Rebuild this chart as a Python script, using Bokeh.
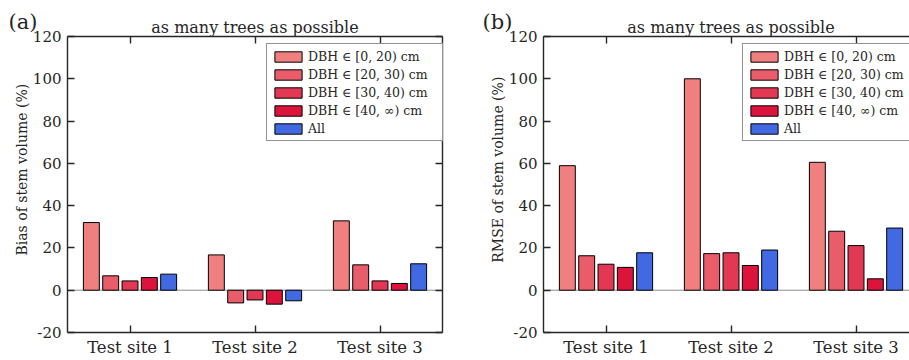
import numpy as np
from bokeh.plotting import figure
from bokeh.models import Range1d, FixedTicker, LinearAxis, Label, Legend, LegendItem
from bokeh.layouts import row
from bokeh.embed import file_html
from bokeh.resources import INLINE

# ---------------- data ----------------
sites = ["Test site 1", "Test site 2", "Test site 3"]
series_labels = ["DBH \u2208 [0, 20) cm", "DBH \u2208 [20, 30) cm",
                 "DBH \u2208 [30, 40) cm", "DBH \u2208 [40, \u221e) cm", "All"]
series_colors = ["#F08080", "#E95C69", "#E33853", "#DC143C", "#4169E1"]

# Bias of stem volume (%)
bias_dbh_0_20 = [32.0, 16.7, 32.8]
bias_dbh_20_30 = [6.8, -6.0, 12.0]
bias_dbh_30_40 = [4.4, -4.6, 4.4]
bias_dbh_40_inf = [6.0, -6.6, 3.2]
bias_all = [7.6, -5.0, 12.5]

# RMSE of stem volume (%)
rmse_dbh_0_20 = [58.9, 100.0, 60.5]
rmse_dbh_20_30 = [16.3, 17.3, 27.9]
rmse_dbh_30_40 = [12.3, 17.7, 21.1]
rmse_dbh_40_inf = [10.8, 11.7, 5.4]
rmse_all = [17.7, 19.0, 29.4]

y_min, y_max = -20, 120
y_ticks = [-20, 0, 20, 40, 60, 80, 100, 120]
y_tick_labels = ["-20", "0", "20", "40", "60", "80", "100", "120"]
panel_title = "as many trees as possible"

# ---------------- style / layout ----------------
FONT = "DejaVu Serif"
TXT = "#262626"
FIG_H = 360
BOX_TOP = 36        # px from canvas top to the y=120 line
BOX_BOTTOM = 332    # px from canvas top to the y=-20 line
PX_PER_CAT = 125.0
BAR_W = 0.1275
BAR_STEP = 0.1546


def style_axis(ax, ticks, labels, show_labels=True):
    ax.ticker = FixedTicker(ticks=ticks)
    ax.axis_line_color = TXT
    ax.axis_line_width = 1.4
    ax.major_tick_line_color = TXT
    ax.major_tick_line_width = 1.4
    ax.major_tick_in = 7
    ax.major_tick_out = 0
    ax.minor_tick_line_color = None
    ax.major_label_text_font = FONT
    ax.major_label_text_font_size = "15px"
    ax.major_label_text_color = TXT
    ax.major_label_standoff = 6
    if show_labels:
        ax.major_label_overrides = {t: l for t, l in zip(ticks, labels)}
    else:
        ax.major_label_overrides = {t: "" for t in ticks}


def make_panel(series_values, ylabel, tag, width, box_left, tag_dx, right_axis):
    ncat = len(sites)
    x0 = 0.5 - box_left / PX_PER_CAT
    x1 = x0 + width / PX_PER_CAT
    ppu = (BOX_BOTTOM - BOX_TOP) / (y_max - y_min)
    y1 = y_max + BOX_TOP / ppu
    y0 = y_min - (FIG_H - BOX_BOTTOM) / ppu

    p = figure(width=width, height=FIG_H,
               x_range=Range1d(x0, x1), y_range=Range1d(y0, y1),
               output_backend="svg", toolbar_location=None,
               x_axis_location=None, y_axis_location=None,
               min_border=0)
    p.outline_line_color = None
    p.xgrid.visible = False
    p.ygrid.visible = False
    p.background_fill_color = "white"
    p.border_fill_color = "white"

    cat_pos = [i + 1 for i in range(ncat)]
    xb = (0.5, ncat + 0.5)

    bottom_ax = LinearAxis(fixed_location=y_min, bounds=xb)
    style_axis(bottom_ax, cat_pos, sites)
    bottom_ax.major_label_text_font_size = "16.5px"
    bottom_ax.major_label_standoff = 5
    p.add_layout(bottom_ax, "below")

    top_ax = LinearAxis(fixed_location=y_max, bounds=xb)
    style_axis(top_ax, cat_pos, sites, show_labels=False)
    p.add_layout(top_ax, "above")

    left_ax = LinearAxis(fixed_location=0.5, bounds=(y_min, y_max))
    style_axis(left_ax, y_ticks, y_tick_labels)
    p.add_layout(left_ax, "left")

    if right_axis:
        r_ax = LinearAxis(fixed_location=ncat + 0.5, bounds=(y_min, y_max))
        style_axis(r_ax, y_ticks, y_tick_labels, show_labels=False)
        p.add_layout(r_ax, "right")

    p.segment(x0=[0.5], x1=[ncat + 0.5], y0=[0], y1=[0],
              line_color="#8c8c8c", line_width=1)

    items = []
    n = len(series_values)
    for k, (vals, col, lab) in enumerate(zip(series_values, series_colors, series_labels)):
        off = (k - (n - 1) / 2) * BAR_STEP
        xs = [c + off for c in cat_pos]
        r = p.vbar(x=xs, top=vals, bottom=0, width=BAR_W,
                   fill_color=col, line_color="black", line_width=1)
        items.append(LegendItem(label=lab, renderers=[r]))

    legend = Legend(items=items, location=(box_left + 199, FIG_H - 141),
                    border_line_color=TXT, border_line_width=1.4,
                    background_fill_color="white", background_fill_alpha=1.0,
                    padding=4, spacing=2, margin=0,
                    glyph_width=34, glyph_height=13, label_height=16,
                    label_width=130, label_standoff=3,
                    label_text_font=FONT, label_text_font_size="12.5px",
                    label_text_color=TXT)
    p.add_layout(legend)

    p.add_layout(Label(x=(ncat + 1) / 2, y=y_max, text=panel_title, text_align="center",
                       text_baseline="alphabetic", y_offset=9,
                       text_font=FONT, text_font_size="16px", text_color=TXT))
    p.add_layout(Label(x=0.5, y=57, text=ylabel, angle=np.pi / 2,
                       text_align="center", text_baseline="middle",
                       x_offset=-46, text_font=FONT, text_font_size="14px",
                       text_color=TXT))
    p.add_layout(Label(x=0.5, y=y_max, text=tag, text_align="left",
                       text_baseline="alphabetic", x_offset=tag_dx,
                       y_offset=15, text_font=FONT, text_font_size="21px",
                       text_color=TXT))
    return p


bias_series = [bias_dbh_0_20, bias_dbh_20_30, bias_dbh_30_40, bias_dbh_40_inf, bias_all]
rmse_series = [rmse_dbh_0_20, rmse_dbh_20_30, rmse_dbh_30_40, rmse_dbh_40_inf, rmse_all]

p1 = make_panel(bias_series, "Bias of stem volume (%)", "(a)",
                width=470, box_left=67, tag_dx=-59, right_axis=True)
p2 = make_panel(rmse_series, "RMSE of stem volume (%)", "(b)",
                width=439, box_left=73, tag_dx=-61, right_axis=False)

layout = row(p1, p2)
open("out.html", "w").write(file_html(layout, INLINE))
